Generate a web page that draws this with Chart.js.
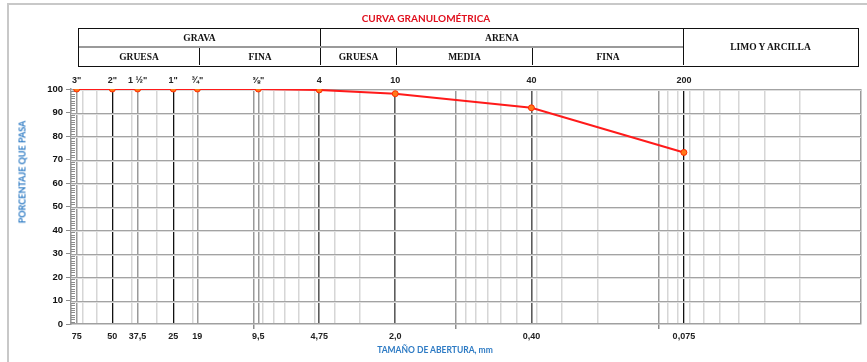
<!DOCTYPE html>
<html lang="es">
  <head>
    <meta charset="UTF-8" />
    <title>Curva granulométrica</title>
    <script src="https://cdn.jsdelivr.net/npm/chart.js"></script>
    <style>
      body {
        margin: 0;
        width: 867px;
        height: 362px;
        overflow: hidden;
        background: #fff;
        position: relative;
        font-family: Lato, "Liberation Sans", sans-serif;
      }
      #frame {
        position: absolute;
        left: 7px;
        top: 3px;
        width: 900px;
        height: 400px;
        border: 2px solid #c8c8c8;
      }
      #chart {
        position: absolute;
        left: 0;
        top: 0;
      }
      #title {
        position: absolute;
        left: 326px;
        top: 12px;
        width: 200px;
        text-align: center;
        font-weight: bold;
        font-size: 10px;
        color: #e0101e;
      }
      .hdr {
        position: absolute;
        left: 78px;
        top: 28px;
        width: 781px;
        height: 39px;
        border: 1.5px solid #111;
        box-sizing: border-box;
      }
      .c {
        position: absolute;
        display: flex;
        align-items: center;
        justify-content: center;
        font: bold 9.5px "Liberation Serif", serif;
        color: #111;
        box-sizing: border-box;
      }
      .bl {
        border-left: 1.5px solid #111;
      }
      .sep {
        position: absolute;
        left: 0;
        top: 17px;
        width: 604px;
        border-top: 2px solid #9a9a9a;
      }
      .axt {
        position: absolute;
        font-weight: bold;
        font-size: 8.5px;
        color: #2e7bc4;
        white-space: nowrap;
        transform: translate(-50%, -50%);
      }
    </style>
  </head>
  <body>
    <div id="frame"></div>
    <canvas id="chart" width="867" height="362"></canvas>

    <div id="title">CURVA GRANULOMÉTRICA</div>
    <div class="hdr">
      <div class="c" style="left:0;top:0;width:241px;height:17px">GRAVA</div>
      <div class="c bl" style="left:241px;top:0;width:363px;height:17px">ARENA</div>
      <div class="c bl" style="left:604px;top:0;width:174px;height:36px">LIMO Y ARCILLA</div>
      <div class="sep"></div>
      <div class="c" style="left:0;top:19px;width:120px;height:17px">GRUESA</div>
      <div class="c bl" style="left:120px;top:19px;width:121px;height:17px">FINA</div>
      <div class="c bl" style="left:241px;top:19px;width:76px;height:17px">GRUESA</div>
      <div class="c bl" style="left:317px;top:19px;width:136px;height:17px">MEDIA</div>
      <div class="c bl" style="left:453px;top:19px;width:151px;height:17px">FINA</div>
    </div>
    <div class="axt" style="left:22px;top:172px;font-size:9px;transform:translate(-50%,-50%) rotate(-90deg)">PORCENTAJE QUE PASA</div>
    <div class="axt" style="left:435px;top:350px">TAMAÑO DE ABERTURA, mm</div>

    <script>
      // sieve openings (mm) and % passing
      const sieveMm = [75, 50, 37.5, 25, 19, 9.5, 4.75, 2.0, 0.425, 0.075];
      const sieveTop = ['3"', '2"', '1 ½"', '1"', '¾"', '⅜"', "4", "10", "40", "200"];
      const sieveBottom = ["75", "50", "37,5", "25", "19", "9,5", "4,75", "2,0", "0,40", "0,075"];
      const passing = [100, 100, 100, 100, 100, 100, 99.6, 98, 92, 73];

      const xMin = 0.01;
      const xMax = 80;

      // line styles of the vertical grid
      const blackLines = [50, 25, 0.075];
      const darkLines = [4.75, 2.0, 0.425];
      const styles = {
        black: { color: "#111111", width: 1.3 },
        dark: { color: "#5c5c5c", width: 1.6 },
        mid: { color: "#9a9a9a", width: 1.5 },
        minor: { color: "#d6d6d6", width: 1.5 },
      };

      const same = (a, b) => Math.abs(a - b) < 1e-9;

      function bottomTicks() {
        const ticks = [];
        for (let e = -2; e <= 1; e++) {
          for (let m = 1; m <= 9; m++) {
            const v = +(m * Math.pow(10, e)).toPrecision(6);
            if (v > xMax || v <= xMin) continue;
            if (sieveMm.some((s) => same(s, v))) continue;
            ticks.push({ value: v, lbl: "", kind: m === 1 ? "mid" : "minor", decade: m === 1 });
          }
        }
        ticks.push({ value: xMin, lbl: "", kind: "mid", decade: false });
        sieveMm.forEach((s, i) => {
          let kind = "mid";
          if (blackLines.some((b) => same(b, s))) kind = "black";
          else if (darkLines.some((b) => same(b, s))) kind = "dark";
          ticks.push({ value: s, lbl: sieveBottom[i], kind: kind, decade: false });
        });
        return ticks;
      }

      // horizontal grid (double line look) and small minor ticks inside the y axis
      const yGridExtras = {
        id: "yGridExtras",
        beforeDatasetsDraw(chart) {
          const y = chart.scales.y;
          const area = chart.chartArea;
          const ctx = chart.ctx;
          ctx.save();
          ctx.lineWidth = 1;
          y.ticks.forEach((t) => {
            if (t.value === 0) return;
            const py = Math.round(y.getPixelForValue(t.value)) + 0.5;
            ctx.strokeStyle = "#a3a3a3";
            ctx.beginPath();
            ctx.moveTo(area.left, py);
            ctx.lineTo(area.right, py);
            ctx.stroke();
            ctx.strokeStyle = "#dedede";
            ctx.beginPath();
            ctx.moveTo(area.left, py + 1);
            ctx.lineTo(area.right, py + 1);
            ctx.stroke();
          });
          ctx.strokeStyle = "#8c8c8c";
          for (let v = 1; v < 100; v++) {
            if (v % 10 === 0) continue;
            const py = Math.round(y.getPixelForValue(v)) + 0.5;
            ctx.beginPath();
            ctx.moveTo(area.left, py);
            ctx.lineTo(area.left + 4, py);
            ctx.stroke();
          }
          ctx.restore();
        },
      };

      const tickFont = { family: "'Liberation Sans', sans-serif", weight: "bold", size: 9 };

      new Chart(document.getElementById("chart"), {
        type: "line",
        data: {
          datasets: [
            {
              data: sieveMm.map((s, i) => ({ x: s, y: passing[i] })),
              borderColor: "#ff1a1a",
              borderWidth: 2,
              pointRadius: 3,
              pointBorderWidth: 1,
              pointBackgroundColor: "#ff7a1a",
              pointBorderColor: "#ff2a00",
              tension: 0,
              xAxisID: "x",
              yAxisID: "y",
            },
          ],
        },
        options: {
          responsive: false,
          animation: false,
          devicePixelRatio: 1,
          layout: { padding: { left: 10, right: 6, top: 69, bottom: 0 } },
          plugins: { legend: { display: false }, tooltip: { enabled: false } },
          scales: {
            x: {
              type: "logarithmic",
              position: "bottom",
              reverse: true,
              min: xMin,
              max: xMax,
              afterBuildTicks: (scale) => {
                scale.ticks = bottomTicks();
              },
              afterFit: (scale) => {
                scale.height = 38;
              },
              ticks: {
                autoSkip: false,
                maxRotation: 0,
                minRotation: 0,
                padding: 2,
                color: "#222",
                font: tickFont,
                callback: (value, index, ticks) => ticks[index].lbl,
              },
              grid: {
                color: (ctx) => (ctx.tick ? styles[ctx.tick.kind].color : "transparent"),
                lineWidth: (ctx) => (ctx.tick ? styles[ctx.tick.kind].width : 1),
                tickColor: (ctx) => (ctx.tick && ctx.tick.decade ? "#8c8c8c" : "transparent"),
                tickLength: 5,
              },
              border: { color: "#a0a0a0", width: 1.5 },
            },
            x2: {
              type: "logarithmic",
              position: "top",
              reverse: true,
              min: xMin,
              max: xMax,
              afterBuildTicks: (scale) => {
                scale.ticks = sieveMm.map((s, i) => ({ value: s, lbl: sieveTop[i] }));
              },
              afterFit: (scale) => {
                scale.height = 20;
              },
              ticks: {
                autoSkip: false,
                maxRotation: 0,
                minRotation: 0,
                padding: 3,
                color: "#222",
                font: tickFont,
                callback: (value, index, ticks) => ticks[index].lbl,
              },
              grid: { display: false, drawTicks: false },
              border: { display: false },
            },
            y: {
              min: 0,
              max: 100,
              afterFit: (scale) => {
                scale.width = 61;
              },
              ticks: {
                stepSize: 10,
                padding: 3,
                color: "#111",
                font: { family: "'Liberation Sans', sans-serif", weight: "bold", size: 9.5 },
              },
              grid: {
                drawOnChartArea: false,
                tickColor: "#8c8c8c",
                tickLength: 5,
              },
              border: { color: "#9a9a9a", width: 1.5 },
            },
          },
        },
        plugins: [yGridExtras],
      });
    </script>
  </body>
</html>
